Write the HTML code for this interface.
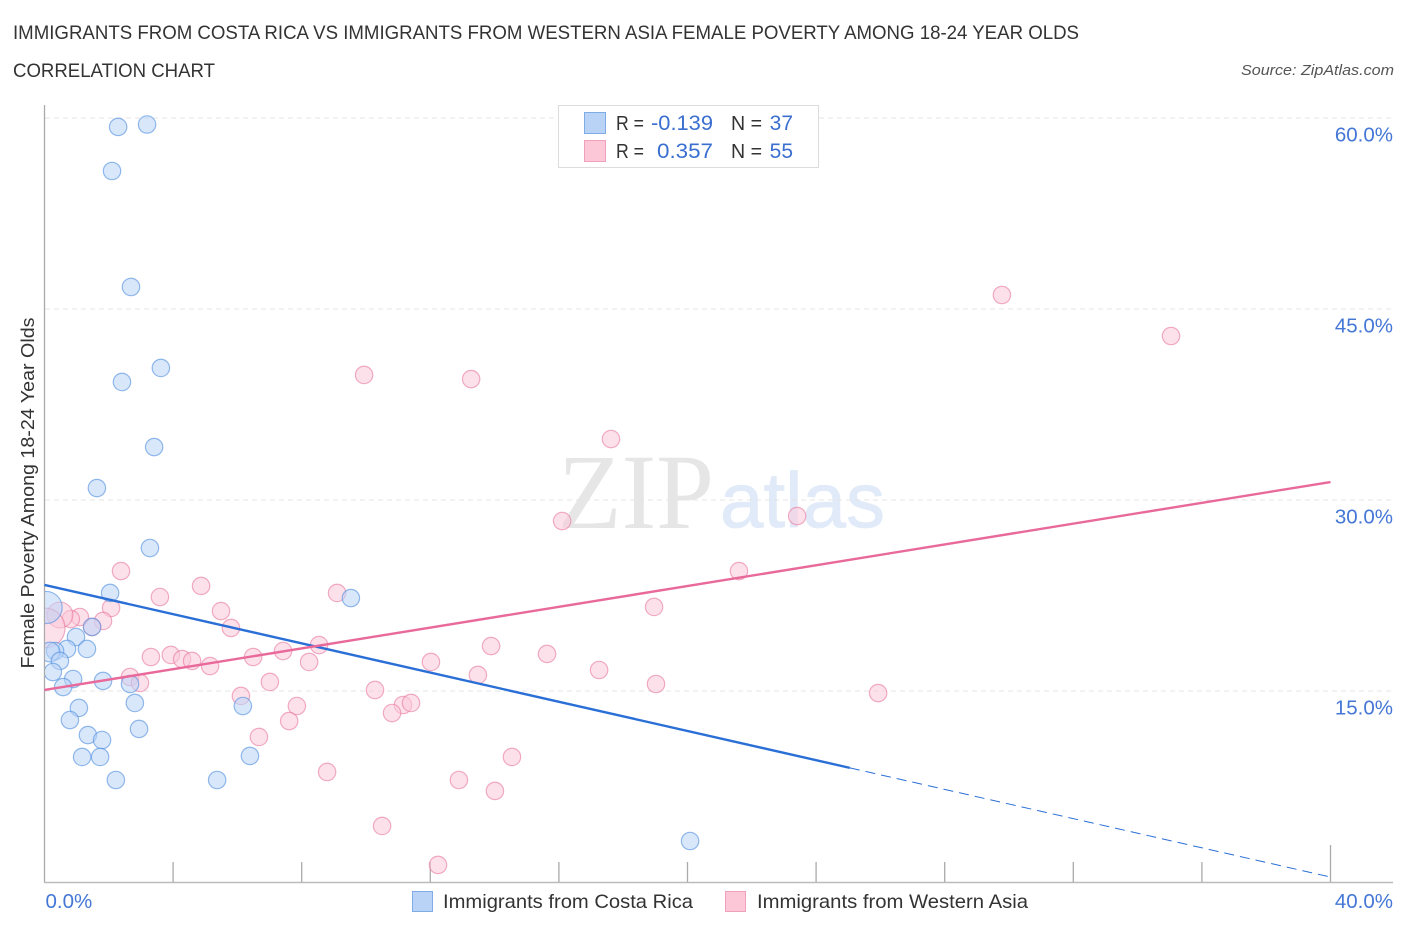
<!DOCTYPE html>
<html lang="en">
<head>
<meta charset="utf-8">
<title>Immigrants from Costa Rica vs Immigrants from Western Asia Female Poverty Among 18-24 Year Olds</title>
<style>
html,body{margin:0;padding:0;background:#fff;}
svg{display:block;font-family:"Liberation Sans",sans-serif;}
</style>
</head>
<body>
<svg id="chart" xmlns="http://www.w3.org/2000/svg" width="1406" height="930" viewBox="0 0 1406 930">
  <defs>
    <clipPath id="plot-clip"><rect x="45" y="100" width="1350" height="782"/></clipPath>
  </defs>
  <rect x="0" y="0" width="1406" height="930" fill="#ffffff"/>
  <text x="13" y="39" font-size="19" fill="#333" textLength="1066" lengthAdjust="spacingAndGlyphs">IMMIGRANTS FROM COSTA RICA VS IMMIGRANTS FROM WESTERN ASIA FEMALE POVERTY AMONG 18-24 YEAR OLDS</text>
  <text x="13" y="77" font-size="19" fill="#333" textLength="202" lengthAdjust="spacingAndGlyphs">CORRELATION CHART</text>
  <text x="1394" y="75" font-size="15" font-style="italic" fill="#555" text-anchor="end" textLength="153" lengthAdjust="spacingAndGlyphs">Source: ZipAtlas.com</text>
  <text x="558" y="528" font-family="'Liberation Serif',serif" font-size="107" fill="#e6e6e6" textLength="156" lengthAdjust="spacingAndGlyphs">ZIP</text>
  <text x="720" y="527" font-size="78" fill="#e1eaf8" stroke="#e1eaf8" stroke-width="0.8" textLength="165" lengthAdjust="spacingAndGlyphs">atlas</text>
  <g id="grid"></g>
  <g id="axes"></g>
  <g clip-path="url(#plot-clip)">
    <g id="points-b"></g>
    <g id="points-a"></g>
  </g>
  <g id="trends"></g>
  <text transform="translate(34,493) rotate(-90)" font-size="18.5" fill="#333" text-anchor="middle" textLength="351" lengthAdjust="spacingAndGlyphs">Female Poverty Among 18-24 Year Olds</text>

  <g>
    <rect x="558.5" y="105.5" width="260" height="62" fill="#fff" stroke="#dcdcdc" stroke-width="1"/>
    <rect x="584.5" y="112.5" width="21" height="21" fill="#b9d3f7" stroke="#7fabe6" stroke-width="1"/>
    <rect x="584.5" y="140.5" width="21" height="21" fill="#fcc8d8" stroke="#f0a0bb" stroke-width="1"/>
    <text x="616" y="130" font-size="20" fill="#333" textLength="28" lengthAdjust="spacingAndGlyphs">R =</text>
    <text x="651" y="130" font-size="21" fill="#3a6fd0" textLength="62" lengthAdjust="spacingAndGlyphs">-0.139</text>
    <text x="731" y="130" font-size="20" fill="#333" textLength="31" lengthAdjust="spacingAndGlyphs">N =</text>
    <text x="793" y="130" font-size="21" fill="#3a6fd0" text-anchor="end">37</text>
    <text x="616" y="158" font-size="20" fill="#333" textLength="28" lengthAdjust="spacingAndGlyphs">R =</text>
    <text x="657" y="158" font-size="21" fill="#3a6fd0" textLength="56" lengthAdjust="spacingAndGlyphs">0.357</text>
    <text x="731" y="158" font-size="20" fill="#333" textLength="31" lengthAdjust="spacingAndGlyphs">N =</text>
    <text x="793" y="158" font-size="21" fill="#3a6fd0" text-anchor="end">55</text>
  </g>

  <g>
    <rect x="412.5" y="891.5" width="20" height="20" fill="#b9d3f7" stroke="#7fabe6" stroke-width="1"/>
    <text x="443" y="908" font-size="19.5" fill="#333" textLength="250" lengthAdjust="spacingAndGlyphs">Immigrants from Costa Rica</text>
    <rect x="725.5" y="891.5" width="20" height="20" fill="#fcc8d8" stroke="#f0a0bb" stroke-width="1"/>
    <text x="757" y="908" font-size="19.5" fill="#333" textLength="271" lengthAdjust="spacingAndGlyphs">Immigrants from Western Asia</text>
  </g>
</svg>
<script>
// Data (x: share of immigrants %, y: female poverty %, w: relative bubble weight)
const costaRicaX = [2.29,3.19,2.10,2.69,3.62,2.41,3.41,1.63,3.28,2.04,9.53,0.05,1.48,0.98,1.32,0.70,0.33,0.17,0.48,0.26,0.89,0.58,1.82,2.66,1.07,2.81,0.79,2.94,1.35,1.79,1.17,1.73,2.22,5.37,6.17,6.39,20.08];
const costaRicaY = [59.30,59.49,55.84,46.73,40.37,39.27,34.16,30.94,26.23,22.70,22.30,21.56,20.03,19.24,18.30,18.30,18.14,18.06,17.36,16.49,15.94,15.31,15.79,15.55,13.67,14.06,12.72,12.02,11.54,11.15,9.82,9.82,8.01,8.01,13.82,9.90,3.22];
const costaRicaW = [1,1,1,1,1,1,1,1,1,1,1,3.4,1,1,1,1,1,1.3,1,1,1,1,1,1,1,1,1,1,1,1,1,1,1,1,1,1,1];
const westernAsiaX = [29.78,35.04,9.94,13.27,17.62,23.41,16.10,21.60,2.38,4.87,3.59,9.10,2.07,18.96,5.49,5.80,8.54,13.89,15.63,12.02,8.23,6.49,7.42,3.31,3.93,4.28,4.59,5.15,17.25,13.48,19.02,25.93,7.01,2.66,2.97,6.11,10.28,7.85,11.15,11.40,10.81,7.61,6.67,14.54,8.79,12.89,14.01,10.50,12.24,1.82,1.48,1.10,0.82,0.48,0.02];
const westernAsiaY = [46.10,42.88,39.82,39.50,34.79,28.74,28.35,24.42,24.42,23.25,22.38,22.70,21.52,21.60,21.28,19.95,18.61,18.53,17.91,17.28,17.28,17.67,18.14,17.67,17.83,17.51,17.36,16.96,16.65,16.26,15.55,14.84,15.71,16.10,15.63,14.61,15.08,13.82,13.90,14.06,13.27,12.64,11.39,9.82,8.64,8.01,7.15,4.40,1.34,20.50,20.03,20.81,20.65,20.97,19.95];
const westernAsiaW = [1,1,1,1,1,1,1,1,1,1,1,1,1,1,1,1,1,1,1,1,1,1,1,1,1,1,1,1,1,1,1,1,1,1,1,1,1,1,1,1,1,1,1,1,1,1,1,1,1,1,1,1,1,2.2,5.2];
const costaRicaTrend = [23.33,0.39];   // y at x=0 and x=40
const westernAsiaTrend = [15.08,31.41]; // y at x=0 and x=40
const yTickValues = [15,30,45,60];
const yTickLabels = ["15.0%","30.0%","45.0%","60.0%"];
const xTickValues = [0,4,8,12,16,20,24,28,32,36,40];
const xEndValues = [0,40];
const xEndLabels = ["0.0%","40.0%"];

const NS = "http://www.w3.org/2000/svg";
const plot = {left:44.5, right:1330.5, bottom:882, yPerUnit:12.733, xEnd:40, baseR:8.7};
function xScale(v){ return plot.left + (plot.right-plot.left)*v/plot.xEnd; }
function yScale(v){ return plot.bottom - plot.yPerUnit*v; }
function mk(tag, parent, attrs){
  const el = document.createElementNS(NS, tag);
  for (const k in attrs) el.setAttribute(k, attrs[k]);
  parent.appendChild(el);
  return el;
}
const grid = document.getElementById("grid");
const axes = document.getElementById("axes");
const pa = document.getElementById("points-a");
const pb = document.getElementById("points-b");
const trends = document.getElementById("trends");

yTickValues.forEach(function(v,i){
  const y = yScale(v);
  const g = mk("line", grid, {x1:45, x2:1393, y1:y, y2:y, stroke:"#e4e4e4", "stroke-width":1, "stroke-dasharray":"5 4"});
  
  
  const t = mk("text", axes, {x:1393, y:y+23.5, "font-size":20.5, fill:"#4477d6", "text-anchor":"end"});
  t.textContent = yTickLabels[i];
  
  
});

const yAxis = mk("line", axes, {x1:44.5, x2:44.5, y1:105, y2:882, stroke:"#aaaaaa", "stroke-width":1.3});


const xAxis = mk("line", axes, {x1:44, x2:1393, y1:882.5, y2:882.5, stroke:"#bbbbbb", "stroke-width":1.6});



xTickValues.forEach(function(v,i){
  if (i===0) return;
  const x = xScale(v);
  const last = i===xTickValues.length-1;
  const tick = mk("line", axes, {x1:x, x2:x, y1:last?845:862, y2:882, stroke:"#aaaaaa", "stroke-width":1.3});
  
  
});

xEndValues.forEach(function(v,i){
  const t = mk("text", axes, i===0
    ? {x:xScale(v)+1, y:908, "font-size":20.5, fill:"#4477d6"}
    : {x:1393, y:908, "font-size":20.5, fill:"#4477d6", "text-anchor":"end"});
  t.textContent = xEndLabels[i];
  
  
});

function drawPoints(parent, xs, ys, ws, fill, stroke, name){
  xs.forEach(function(x,i){
    const c = mk("circle", parent, {cx:xScale(x), cy:yScale(ys[i]), r:plot.baseR*Math.sqrt(ws[i]), fill:fill, "fill-opacity":0.55, stroke:stroke, "stroke-opacity":0.6, "stroke-width":1.2});
    
    
  });
}
drawPoints(pb, westernAsiaX, westernAsiaY, westernAsiaW, "#fcc8d8", "#e8789f", "western-asia-point");
drawPoints(pa, costaRicaX, costaRicaY, costaRicaW, "#b9d3f7", "#4f8ede", "costa-rica-point");

function trendAt(tr, x){ return tr[0] + (tr[1]-tr[0])*x/plot.xEnd; }
const solidEnd = 25.05;
const t1 = mk("line", trends, {x1:xScale(0), y1:yScale(trendAt(costaRicaTrend,0)), x2:xScale(solidEnd), y2:yScale(trendAt(costaRicaTrend,solidEnd)), stroke:"#2a6fd6", "stroke-width":2.4});


const t2 = mk("line", trends, {x1:xScale(solidEnd), y1:yScale(trendAt(costaRicaTrend,solidEnd)), x2:xScale(40), y2:yScale(trendAt(costaRicaTrend,40)), stroke:"#2a6fd6", "stroke-width":1, "stroke-dasharray":"10 6"});


const t3 = mk("line", trends, {x1:xScale(0), y1:yScale(trendAt(westernAsiaTrend,0)), x2:xScale(40), y2:yScale(trendAt(westernAsiaTrend,40)), stroke:"#e8699a", "stroke-width":2.4});


</script>
</body>
</html>
